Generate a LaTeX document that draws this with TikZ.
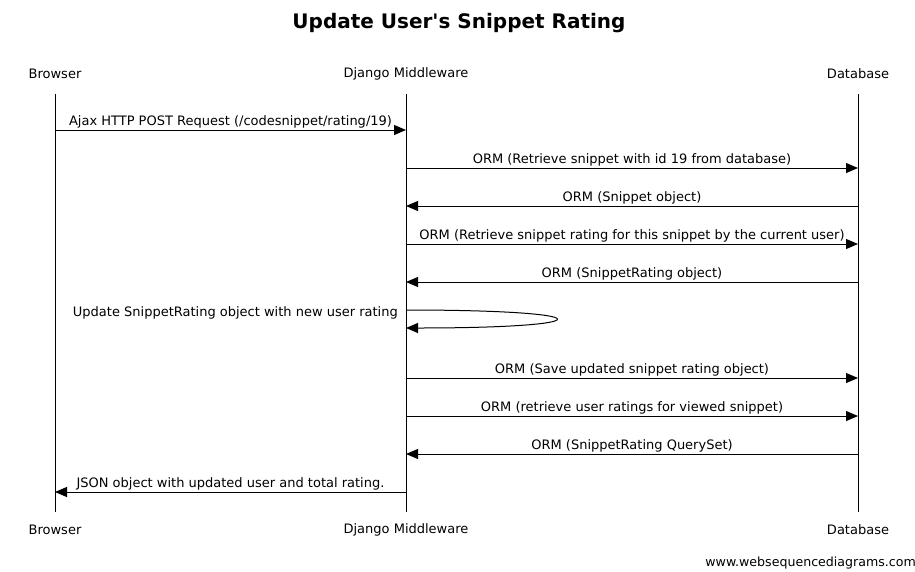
\documentclass[tikz,border=0pt]{standalone}
\usepackage{fontspec}
\defaultfontfeatures{Ligatures=TeXOff}
\setmainfont{DejaVu Sans}[Ligatures=TeXOff]
\usetikzlibrary{arrows.meta}
\begin{document}
\begin{tikzpicture}[x=1pt,y=-1pt,
  actor/.style={font=\fontsize{13}{15}\selectfont, inner sep=0pt, anchor=center},
  life/.style={line width=1pt, black},
  msg/.style={line width=1pt, -{Triangle[length=12pt,width=10pt]}},
  lbl/.style={font=\fontsize{13}{15}\selectfont, inner sep=0pt, anchor=base, yshift=5pt}]
\useasboundingbox (0,0) rectangle (915,571);
% title
\node[font=\bfseries\fontsize{20}{23}\selectfont, inner sep=0pt] (title) at (459,23) {Update User's Snippet Rating};
% actors
\node[actor] (bT) at (55,74) {Browser};
\node[actor] (dT) at (406,74) {Django Middleware};
\node[actor] (gT) at (858,74) {Database};
\node[actor] (bB) at (55,530) {Browser};
\node[actor] (dB) at (406,530) {Django Middleware};
\node[actor] (gB) at (858,530) {Database};
% lifelines
\coordinate (b0) at (55,94); \coordinate (b1) at (55,512);
\coordinate (d0) at (406,94); \coordinate (d1) at (406,512);
\coordinate (g0) at (858,94); \coordinate (g1) at (858,512);
\draw[life] (b0) -- (b1);
\draw[life] (d0) -- (d1);
\draw[life] (g0) -- (g1);
% message endpoints
\foreach \n/\y in {1/130,2/168,3/206,4/244,5/282,7/378,8/416,9/454,10/492}{
  \coordinate (bm\n) at (55,\y);
  \coordinate (dm\n) at (406,\y);
  \coordinate (gm\n) at (858,\y);
}
\coordinate (s1) at (406,310);
\coordinate (s2) at (406,328);
% messages
\draw[msg] (bm1) -- node[lbl] (l1) {Ajax HTTP POST Request (/codesnippet/rating/19)} (dm1);
\draw[msg] (dm2) -- node[lbl] (l2) {ORM (Retrieve snippet with id 19 from database)} (gm2);
\draw[msg] (gm3) -- node[lbl] (l3) {ORM (Snippet object)} (dm3);
\draw[msg] (dm4) -- node[lbl] (l4) {ORM (Retrieve snippet rating for this snippet by the current user)} (gm4);
\draw[msg] (gm5) -- node[lbl] (l5) {ORM (SnippetRating object)} (dm5);
\draw[msg] (s1) .. controls +(200,0) and +(200,0) .. (s2);
\node[font=\fontsize{13}{15}\selectfont, inner sep=0pt, anchor=base east] (l6) at (398,316) {Update SnippetRating object with new user rating};
\draw[msg] (dm7) -- node[lbl] (l7) {ORM (Save updated snippet rating object)} (gm7);
\draw[msg] (dm8) -- node[lbl] (l8) {ORM (retrieve user ratings for viewed snippet)} (gm8);
\draw[msg] (gm9) -- node[lbl] (l9) {ORM (SnippetRating QuerySet)} (dm9);
\draw[msg] (dm10) -- node[lbl] (l10) {JSON object with updated user and total rating.} (bm10);
% footer
\node[font=\fontsize{12.6}{15}\selectfont, inner sep=0pt, anchor=east] (foot) at (916,563) {www.websequencediagrams.com};
\end{tikzpicture}
\end{document}
